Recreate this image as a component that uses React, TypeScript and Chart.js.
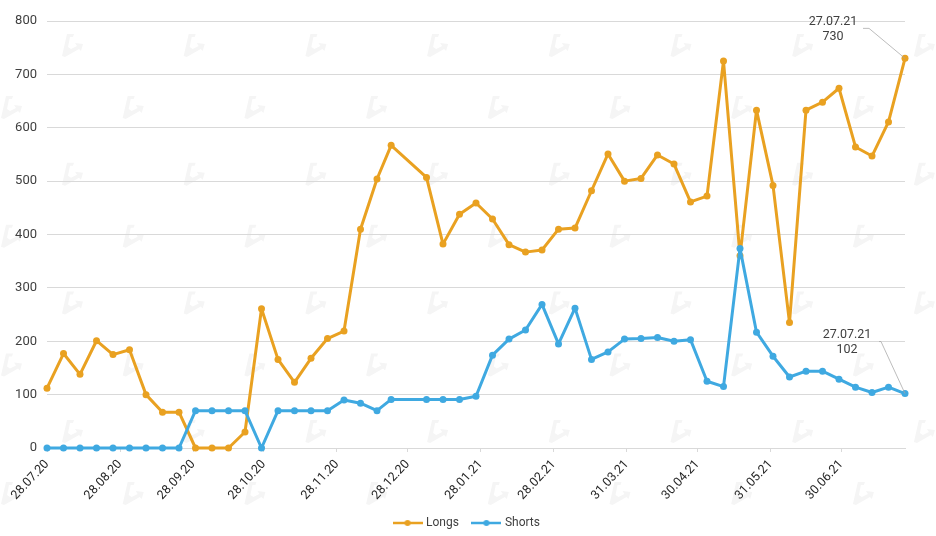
import React, { useEffect, useRef } from "react";
import { Chart, registerables } from "chart.js";

Chart.register(...registerables);

const dates = [
  "28.07.20", "04.08.20", "11.08.20", "18.08.20", "25.08.20", "01.09.20", "08.09.20", "15.09.20", "22.09.20", "29.09.20",
  "06.10.20", "13.10.20", "20.10.20", "27.10.20", "03.11.20", "10.11.20", "17.11.20", "24.11.20", "01.12.20", "08.12.20",
  "15.12.20", "21.12.20", "05.01.21", "12.01.21", "19.01.21", "26.01.21", "02.02.21", "09.02.21", "16.02.21", "23.02.21",
  "02.03.21", "09.03.21", "16.03.21", "23.03.21", "30.03.21", "06.04.21", "13.04.21", "20.04.21", "27.04.21", "04.05.21",
  "11.05.21", "18.05.21", "25.05.21", "01.06.21", "08.06.21", "15.06.21", "22.06.21", "29.06.21", "06.07.21", "13.07.21",
  "20.07.21", "27.07.21",
];
const longs = [
  112, 177, 138, 201, 175, 184, 100, 67, 67, 0,
  0, 0, 30, 261, 166, 123, 168, 205, 219, 410,
  504, 567, 507, 382, 438, 459, 429, 381, 367, 371,
  410, 412, 482, 551, 500, 505, 549, 532, 461, 472,
  725, 360, 633, 492, 235, 633, 648, 674, 564, 547,
  611, 730,
];
const shorts = [
  0, 0, 0, 0, 0, 0, 0, 0, 0, 70,
  70, 70, 70, 0, 70, 70, 70, 70, 90, 84,
  70, 91, 91, 91, 91, 97, 174, 204, 221, 269,
  195, 262, 166, 180, 204, 205, 207, 200, 203, 125,
  115, 374, 217, 172, 133, 144, 144, 129, 114, 104,
  114, 102,
];
const tickDates = [
  "28.07.20", "28.08.20", "28.09.20", "28.10.20", "28.11.20", "28.12.20",
  "28.01.21", "28.02.21", "31.03.21", "30.04.21", "31.05.21", "30.06.21",
];

const FONT = "Roboto";
const ORANGE = "#E9A121";
const BLUE = "#3FA9E1";

const dayOf = (s: string) => {
  const [d, m, y] = s.split(".").map(Number);
  return Math.round((Date.UTC(2000 + y, m - 1, d) - Date.UTC(2020, 6, 28)) / 86400000);
};
const labelByDay = new Map(tickDates.map((t) => [dayOf(t), t]));

const legendSwatch = (color: string) => {
  const c = document.createElement("canvas");
  c.width = 30;
  c.height = 8;
  const g = c.getContext("2d")!;
  g.strokeStyle = color;
  g.fillStyle = color;
  g.lineWidth = 2.5;
  g.beginPath();
  g.moveTo(0, 4);
  g.lineTo(30, 4);
  g.stroke();
  g.beginPath();
  g.arc(15, 4, 3, 0, Math.PI * 2);
  g.fill();
  return c;
};

const watermark = {
  id: "watermark",
  afterLayout(chart: any) {
    // centre the legend on the whole canvas rather than on the padded area
    if (chart.legend) {
      chart.legend.left += 15;
      chart.legend.right += 15;
    }
  },
  beforeDraw(chart: any) {
    const { ctx } = chart;
    const drawLogo = (cx: number, cy: number) => {
      ctx.save();
      ctx.translate(cx, cy);
      ctx.fillStyle = "#f5f5f5";
      ctx.beginPath();
      ctx.moveTo(-10, 11);
      ctx.lineTo(-5, -11);
      ctx.lineTo(2, -11);
      ctx.lineTo(1, -8);
      ctx.lineTo(-2, -8);
      ctx.lineTo(-4, 2);
      ctx.lineTo(-1, 4);
      ctx.lineTo(5, 1);
      ctx.lineTo(3, -2);
      ctx.lineTo(11, -1);
      ctx.lineTo(9, 6);
      ctx.lineTo(7, 4);
      ctx.lineTo(-7, 12);
      ctx.closePath();
      ctx.fill();
      ctx.restore();
    };
    for (let j = 0; j < 5; j++) {
      for (let i = 0; i < 9; i++) {
        drawLogo(72 + 121.7 * i, 45 + 128.7 * j);
        drawLogo(11 + 121.7 * i, 107 + 128.7 * j);
      }
    }
  },
};

const annotations = {
  id: "annotations",
  afterDatasetsDraw(chart: any) {
    const { ctx, scales } = chart;
    const lastDay = dayOf(dates[dates.length - 1]);
    const px = scales.x.getPixelForValue(lastDay);
    const items = [
      { value: longs[longs.length - 1], dx: -72, dy: -36, ex: -42, ey: -30, kx: -36 },
      { value: shorts[shorts.length - 1], dx: -58, dy: -59, ex: -26, ey: -52, kx: -24 },
    ];
    ctx.save();
    for (const it of items) {
      const py = scales.y.getPixelForValue(it.value);
      ctx.strokeStyle = "#a6a6a6";
      ctx.lineWidth = 0.75;
      ctx.beginPath();
      ctx.moveTo(px + it.ex, py + it.ey);
      ctx.lineTo(px + it.kx, py + it.ey);
      ctx.lineTo(px, py);
      ctx.stroke();
      ctx.fillStyle = "#404040";
      ctx.font = `12.5px ${FONT}`;
      ctx.textAlign = "center";
      ctx.textBaseline = "middle";
      ctx.fillText(dates[dates.length - 1], px + it.dx, py + it.dy);
      ctx.fillText(String(it.value), px + it.dx, py + it.dy + 15);
    }
    ctx.restore();
  },
};

export default function App() {
  const ref = useRef<HTMLCanvasElement>(null);
  useEffect(() => {
    const days = dates.map(dayOf);
    const chart = new Chart(ref.current!, {
      type: "line",
      data: {
        datasets: [
          {
            label: "Longs",
            data: days.map((x, i) => ({ x, y: longs[i] })),
            borderColor: ORANGE,
            backgroundColor: ORANGE,
            borderWidth: 3,
            borderJoinStyle: "round",
            pointRadius: 3.5,
            pointBorderWidth: 0,
            tension: 0,
            clip: false,
            order: 2,
          },
          {
            label: "Shorts",
            data: days.map((x, i) => ({ x, y: shorts[i] })),
            borderColor: BLUE,
            backgroundColor: BLUE,
            borderWidth: 3,
            borderJoinStyle: "round",
            pointRadius: 3.5,
            pointBorderWidth: 0,
            tension: 0,
            clip: false,
            order: 1,
          },
        ] as any,
      },
      options: {
        animation: false,
        responsive: false,
        devicePixelRatio: 1,
        layout: { padding: { left: 0, right: 31, top: 21, bottom: -3 } },
        plugins: {
          tooltip: { enabled: false },
          legend: {
            position: "bottom",
            onClick: () => {},
            labels: {
              usePointStyle: true,
              pointStyleWidth: 25,
              boxHeight: 12,
              padding: 15,
              color: "#404040",
              font: { family: FONT, size: 12 },
              generateLabels: (c: any) =>
                c.data.datasets.map((d: any, i: number) => ({
                  text: d.label,
                  datasetIndex: i,
                  fontColor: "#404040",
                  pointStyle: legendSwatch(d.borderColor),
                  lineWidth: 0,
                  hidden: false,
                })),
            },
          },
        },
        scales: {
          x: {
            type: "linear",
            min: 0,
            max: dayOf(dates[dates.length - 1]),
            afterBuildTicks: (s: any) => {
              s.ticks = tickDates.map((t) => ({ value: dayOf(t) }));
            },
            afterFit: (s: any) => {
              s.height = 54;
            },
            border: { color: "#d9d9d9", width: 1 },
            grid: { drawOnChartArea: false, color: "#d9d9d9", tickLength: 4 },
            ticks: {
              autoSkip: false,
              minRotation: 47,
              maxRotation: 47,
              padding: 5,
              color: "#262626",
              font: { family: FONT, size: 12.5 },
              callback: (v: any) => labelByDay.get(v) ?? "",
            },
          },
          y: {
            min: 0,
            max: 800,
            afterFit: (s: any) => {
              s.width = 47;
            },
            border: { display: false },
            grid: { color: "#d9d9d9", drawTicks: false, lineWidth: 1 },
            ticks: {
              stepSize: 100,
              padding: 10,
              color: "#404040",
              font: { family: FONT, size: 13 },
            },
          },
        },
      } as any,
      plugins: [watermark, annotations],
    });
    return () => chart.destroy();
  }, []);
  return (
    <div style={{ position: "fixed", left: 0, top: 0, width: 936, height: 536, background: "#fff" }}>
      <canvas ref={ref} width={936} height={536} style={{ display: "block" }} />
    </div>
  );
}
